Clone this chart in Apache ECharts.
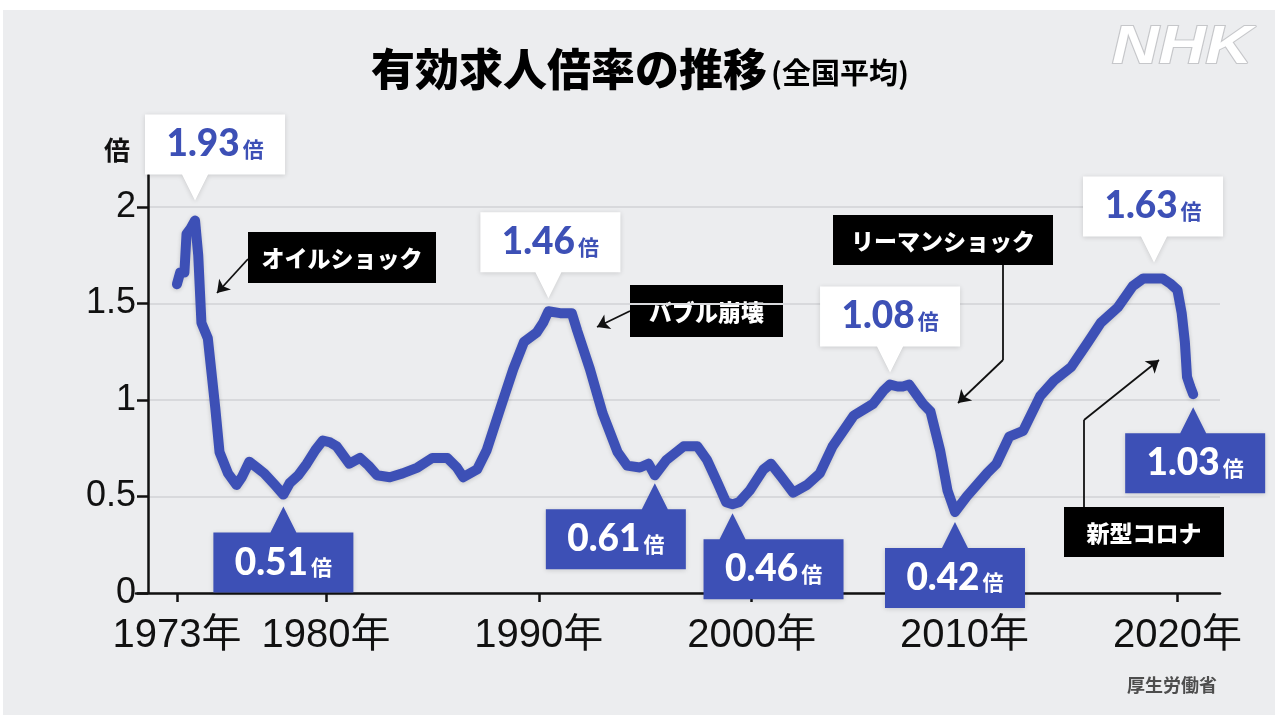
<!DOCTYPE html>
<html>
<head>
<meta charset="utf-8">
<title>有効求人倍率の推移</title>
<script src="https://cdn.jsdelivr.net/npm/echarts@6.0.0/dist/echarts.min.js"></script>
<style>
html, body { margin: 0; padding: 0; background: #fff; }
#chart { position: absolute; left: 0; top: 0; width: 1280px; height: 723px; background: #ecedef; clip-path: inset(10px 5px 8px 3px); }
</style>
</head>
<body>
<div id="chart"></div>
<script>
// 有効求人倍率（全国平均）
var years = [
	1973.00, 1973.15, 1973.35, 1973.45, 1973.65, 1973.85, 1974.00, 1974.15, 1974.45, 1974.80,
	1975.00, 1975.40, 1975.80, 1976.05, 1976.40, 1976.75, 1977.10, 1977.60, 1978.00, 1978.30,
	1978.70, 1979.10, 1979.50, 1979.85, 1980.20, 1980.50, 1981.10, 1981.60, 1982.00, 1982.40,
	1983.00, 1983.60, 1984.30, 1985.00, 1985.70, 1986.15, 1986.45, 1987.10, 1987.55, 1988.20,
	1988.80, 1989.30, 1989.90, 1990.20, 1990.45, 1991.00, 1991.55, 1991.80, 1992.40, 1993.00,
	1993.70, 1994.15, 1994.75, 1995.15, 1995.45, 1996.00, 1996.80, 1997.45, 1997.90, 1998.40,
	1998.80, 1999.10, 1999.40, 1999.90, 2000.55, 2000.90, 2001.40, 2001.95, 2002.60, 2003.20,
	2003.80, 2004.80, 2005.70, 2006.20, 2006.50, 2006.85, 2007.10, 2007.40, 2008.05, 2008.40,
	2008.85, 2009.20, 2009.55, 2010.10, 2011.05, 2011.50, 2012.10, 2012.75, 2013.55, 2014.20,
	2015.00, 2015.80, 2016.40, 2017.20, 2017.90, 2018.40, 2018.90, 2019.30, 2019.70, 2020.00,
	2020.20, 2020.35, 2020.45, 2020.60, 2020.74
];
var ratio = [
	1.60, 1.66, 1.66, 1.86, 1.89, 1.93, 1.75, 1.40, 1.32, 0.96,
	0.73, 0.62, 0.56, 0.60, 0.68, 0.65, 0.62, 0.56, 0.51, 0.57,
	0.61, 0.67, 0.74, 0.79, 0.78, 0.76, 0.67, 0.70, 0.66, 0.61,
	0.60, 0.62, 0.65, 0.70, 0.70, 0.65, 0.60, 0.64, 0.74, 0.96,
	1.16, 1.30, 1.35, 1.40, 1.46, 1.45, 1.45, 1.36, 1.16, 0.93,
	0.73, 0.66, 0.65, 0.67, 0.61, 0.69, 0.76, 0.76, 0.69, 0.57,
	0.47, 0.46, 0.47, 0.53, 0.64, 0.67, 0.60, 0.52, 0.56, 0.62,
	0.76, 0.92, 0.98, 1.05, 1.08, 1.07, 1.07, 1.08, 0.98, 0.94,
	0.74, 0.53, 0.42, 0.50, 0.62, 0.67, 0.81, 0.84, 1.02, 1.10,
	1.17, 1.30, 1.40, 1.48, 1.59, 1.63, 1.63, 1.63, 1.60, 1.57,
	1.45, 1.30, 1.12, 1.07, 1.03
];
// 吹き出しの値
var peakYears = [1973.85, 1978.00, 1990.45, 1995.45, 1999.10, 2006.50, 2009.55, 2018.90, 2020.74];
var peakValues = [1.93, 0.51, 1.46, 0.61, 0.46, 1.08, 0.42, 1.63, 1.03];
// 目盛り
var tickYears = [1973, 1980, 1990, 2000, 2010, 2020];
var events = ['オイルショック', 'バブル崩壊', 'リーマンショック', '新型コロナ'];

// 吹き出しの配置（up: 下側の青い箱）
var peakBoxes = [
	{ up: false, tip: 50, gap: 20 },
	{ up: true, tip: 70, gap: 12 },
	{ up: false, tip: 68, gap: 13 },
	{ up: true, tip: 109, gap: 8 },
	{ up: true, tip: 29, gap: 9 },
	{ up: false, tip: 70, gap: 12 },
	{ up: true, tip: 70, gap: 10 },
	{ up: false, tip: 71, gap: 16 },
	{ up: true, tip: 68, gap: 13 }
];
// 黒ラベルの位置
var eventBoxes = [
	{ x: 248, y: 232, w: 188, h: 51 },
	{ x: 630, y: 285, w: 153, h: 52 },
	{ x: 833, y: 215, w: 220, h: 50 },
	{ x: 1064, y: 507, w: 160, h: 50 }
];

var BLUE = '#3d50b6';
var NUM_FONT = 'Lato, "Noto Sans", sans-serif';
var JP_FONT = '"Noto Sans CJK JP", sans-serif';
var AXIS_FONT = '"Liberation Sans", "Noto Sans CJK JP", sans-serif';

var main = {
	init: function() {
		main.chart()
	},
	callout: function(i) {
		var b = peakBoxes[i];
		var w = 140, h = 60, p = 26, t = b.tip;
		var path, offset, labelOffset, fill, color;
		if (b.up) {
			path = 'path://M0 ' + (h + p) + 'V' + p + 'H' + (t - 13) + 'L' + t + ' 0L' + (t + 13) + ' ' + p + 'H' + w + 'V' + (h + p) + 'Z';
			offset = [w / 2 - t, (h + p) / 2 + b.gap];
			labelOffset = [0, p / 2];
			fill = BLUE;
			color = '#fff';
		} else {
			path = 'path://M0 0H' + w + 'V' + h + 'H' + (t + 13) + 'L' + t + ' ' + (h + p) + 'L' + (t - 13) + ' ' + h + 'H0Z';
			offset = [w / 2 - t, -(h + p) / 2 - b.gap];
			labelOffset = [0, -p / 2];
			fill = '#fff';
			color = BLUE;
		}
		return {
			coord: [peakYears[i], peakValues[i]],
			symbol: path,
			symbolSize: [w, h + p],
			symbolOffset: offset,
			itemStyle: {
				color: fill,
				shadowBlur: 5,
				shadowColor: 'rgba(0,0,0,0.15)',
				shadowOffsetY: 1
			},
			label: {
				show: true,
				position: 'inside',
				offset: labelOffset,
				formatter: '{n|' + peakValues[i].toFixed(2) + '}{u|倍}',
				rich: {
					n: { fontFamily: NUM_FONT, fontWeight: 900, fontSize: 37, color: color },
					u: { fontFamily: JP_FONT, fontWeight: 'bold', fontSize: 21, color: color, padding: [9, 0, 0, 3] }
				}
			}
		};
	},
	chart: function() {
		var myChart = echarts.init(document.getElementById('chart'), null, { renderer: 'canvas' });
		var points = years.map(function(y, i) { return [y, ratio[i]]; });

		var graphics = [];
		eventBoxes.forEach(function(b, i) {
			graphics.push({
				type: 'group',
				x: b.x,
				y: b.y,
				children: [{
					type: 'rect',
					shape: { x: 0, y: 0, width: b.w, height: b.h },
					style: { fill: '#000' }
				}, {
					type: 'text',
					x: b.w / 2,
					y: b.h / 2 + 1,
					style: {
						text: events[i],
						fill: '#fff',
						font: '900 23px ' + JP_FONT,
						align: 'center',
						verticalAlign: 'middle'
					}
				}]
			});
		});
		// NHK ロゴ
		graphics.push({
			type: 'text',
			x: 1112,
			y: 22,
			scaleX: 1.22,
			style: {
				text: 'NHK',
				fill: '#fff',
				stroke: '#c6c7ca',
				lineWidth: 2,
				font: 'italic 900 53px "Liberation Sans", sans-serif'
			}
		});
		graphics.push({
			type: 'text',
			x: 1127,
			y: 676,
			style: {
				text: '厚生労働省',
				fill: '#4d4d4d',
				font: 'bold 18px ' + JP_FONT
			}
		});

		var option = {
			animation: false,
			title: {
				left: 'center',
				top: 42,
				text: '{a|有効求人倍率の推移}{b|(全国平均)}',
				textStyle: {
					rich: {
						a: { fontFamily: JP_FONT, fontWeight: 900, fontSize: 44, color: '#000' },
						b: { fontFamily: JP_FONT, fontWeight: 'bold', fontSize: 29, color: '#000', padding: [8, 0, 0, 4] }
					}
				}
			},
			grid: [
				{ left: 148, right: 60, top: 207, bottom: 130, outerBoundsMode: 'none' },
				{ left: 136, right: 60, top: 175, bottom: 130, outerBoundsMode: 'none' }
			],
			xAxis: [{
				type: 'value',
				gridIndex: 0,
				min: 1971.64,
				max: 2022.0,
				splitLine: { show: false },
				axisLine: { show: false },
				axisTick: {
					show: true,
					customValues: tickYears,
					length: 9,
					lineStyle: { color: '#111', width: 2.5 }
				},
				axisLabel: {
					customValues: tickYears,
					formatter: function(v) { return v + '年'; },
					fontFamily: AXIS_FONT,
					fontSize: 40,
					color: '#111',
					margin: 23
				}
			}, {
				type: 'value',
				gridIndex: 1,
				min: 0,
				max: 1,
				axisLine: { show: true, lineStyle: { color: '#111', width: 2.5 } },
				axisTick: { show: false },
				axisLabel: { show: false },
				splitLine: { show: false }
			}],
			yAxis: [{
				type: 'value',
				gridIndex: 0,
				min: 0,
				max: 2,
				interval: 0.5,
				axisLine: { show: false },
				axisTick: {
					show: true,
					length: 11,
					lineStyle: { color: '#111', width: 2.5 }
				},
				axisLabel: {
					fontFamily: AXIS_FONT,
					fontSize: 36,
					color: '#111',
					margin: 12
				},
				splitLine: { lineStyle: { color: '#d8d9dc', width: 2 } }
			}, {
				type: 'value',
				gridIndex: 1,
				min: 0,
				max: 1,
				offset: -12,
				name: '倍',
				nameLocation: 'end',
				nameGap: 12,
				nameTextStyle: {
					fontFamily: JP_FONT,
					fontWeight: 'bold',
					fontSize: 26,
					color: '#111',
					align: 'right',
					padding: [0, 18, 0, 0]
				},
				axisLine: { show: true, lineStyle: { color: '#111', width: 2.5 } },
				axisTick: { show: false },
				axisLabel: { show: false },
				splitLine: { show: false }
			}],
			series: [{
				type: 'line',
				xAxisIndex: 0,
				yAxisIndex: 0,
				data: points,
				showSymbol: false,
				smooth: false,
				lineStyle: {
					color: BLUE,
					width: 10,
					cap: 'round',
					join: 'round',
					shadowBlur: 4,
					shadowColor: 'rgba(0,0,0,0.18)',
					shadowOffsetY: 1
				},
				markPoint: {
					silent: true,
					data: peakValues.map(function(v, i) { return main.callout(i); })
				},
				markLine: {
					silent: true,
					symbol: ['none', 'arrow'],
					symbolSize: 12,
					label: { show: false },
					lineStyle: { color: '#111', width: 1.8, type: 'solid' },
					data: [
						[{ x: 248, y: 259 }, { x: 217, y: 293 }],
						[{ x: 630, y: 311 }, { x: 597, y: 327 }],
						[{ x: 1003, y: 265, symbol: 'none' }, { x: 1003, y: 360, symbol: 'none' }],
						[{ x: 1003, y: 360 }, { x: 958, y: 403 }],
						[{ x: 1084, y: 507, symbol: 'none' }, { x: 1084, y: 420, symbol: 'none' }],
						[{ x: 1084, y: 420 }, { x: 1159, y: 360 }]
					]
				}
			}],
			graphic: graphics
		};

		myChart.setOption(option);
	}
}

main.init()
</script>
</body>
</html>
